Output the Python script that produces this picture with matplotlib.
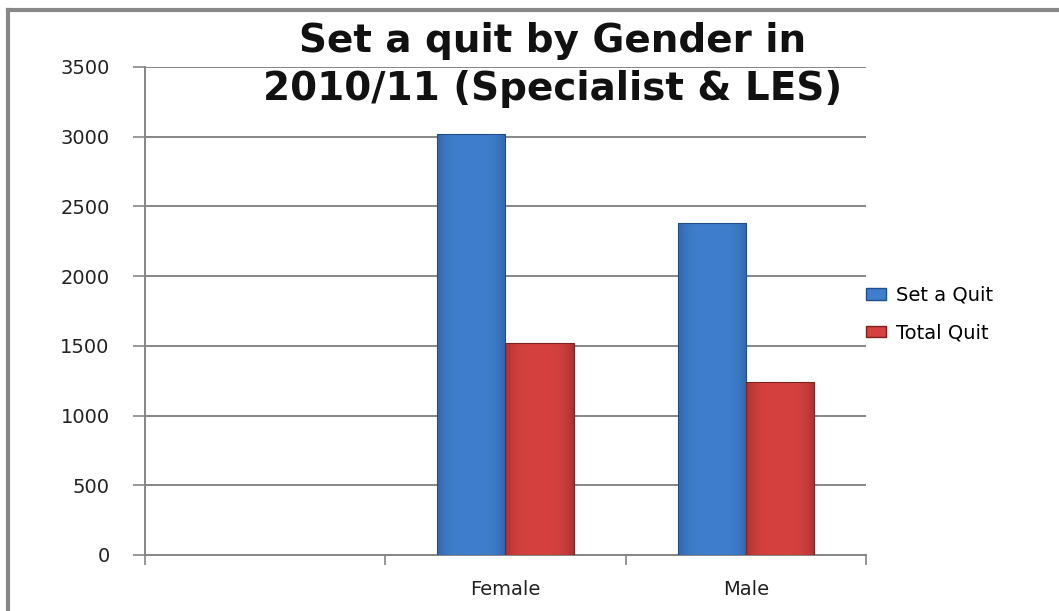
import matplotlib
matplotlib.use("Agg")
import matplotlib.pyplot as plt
import numpy as np
from matplotlib.lines import Line2D
from matplotlib.patches import Patch
from matplotlib.colors import to_rgb

categories = ["", "Female", "Male"]
set_a_quit = [0, 3020, 2383]
total_quit = [0, 1520, 1240]
series_names = ["Set a Quit", "Total Quit"]
y_ticks = [0, 500, 1000, 1500, 2000, 2500, 3000, 3500]
title_lines = ["Set a quit by Gender in", "2010/11 (Specialist & LES)"]

fig = plt.figure(figsize=(10.59, 6.11), dpi=100)
ax = fig.add_axes([145/1059, 1-555/611, (866-145)/1059, (555-67)/611])

x = np.arange(len(categories))
w = 0.283
colors = ["#3F7ECC", "#D4413F"]
dark = ["#214F8C", "#802222"]

def gradient_bars(bars, base, edge):
    for b in bars:
        if b.get_height() <= 0:
            b.set_visible(False)
            continue
        x0, y0 = b.get_x(), b.get_y()
        bw, bh = b.get_width(), b.get_height()
        t = np.linspace(0, 1, 64)
        prof = 1 - 0.5 * np.abs(2 * t - 1) ** 4
        c_base = np.array(to_rgb(base)); c_edge = np.array(to_rgb(edge))
        img = (c_edge[None, :] * (1 - prof[:, None]) + c_base[None, :] * prof[:, None])
        img = img[None, :, :]
        im = ax.imshow(img, extent=(x0, x0 + bw, y0, y0 + bh), aspect="auto",
                       zorder=b.get_zorder(), interpolation="bilinear")
        im.set_clip_path(b)
        b.set_facecolor("none")
        b.set_edgecolor(edge)
        b.set_linewidth(0.8)
        b.set_zorder(b.get_zorder() + 0.1)

b1 = ax.bar(x - w/2, set_a_quit, width=w, color=colors[0], zorder=3)
b2 = ax.bar(x + w/2, total_quit, width=w, color=colors[1], zorder=3)
gradient_bars(b1, colors[0], dark[0])
gradient_bars(b2, colors[1], dark[1])

tick_font = dict(family="DejaVu Sans", size=14)
ax.set_xlim(-0.5, len(categories) - 0.5)
ax.set_ylim(0, 3500)
ax.set_yticks(y_ticks)
ax.set_yticklabels([str(v) for v in y_ticks], color="#222222", **tick_font)
ax.yaxis.grid(True, color="#868686", linewidth=1.4, zorder=0)
ax.set_axisbelow(True)
ax.tick_params(axis="y", length=8.5, width=1.2, color="#868686", pad=17)

ax.set_xticks(x)
ax.set_xticklabels(categories, color="#222222", **tick_font)
ax.tick_params(axis="x", length=0, pad=18)
ax.set_xticks(np.arange(len(categories) + 1) - 0.5, minor=True)
ax.tick_params(axis="x", which="minor", length=7.5, width=1.2, color="#868686")

for s in ["top", "right"]:
    ax.spines[s].set_visible(False)
for s in ["left", "bottom"]:
    ax.spines[s].set_color("#868686")
    ax.spines[s].set_linewidth(1.4)

handles = [Patch(facecolor=colors[0], edgecolor=dark[0]),
           Patch(facecolor=colors[1], edgecolor=dark[1])]
fig.legend(handles, series_names, loc="center left",
           bbox_to_anchor=(848/1059, 1-314/611), frameon=False,
           handlelength=1.05, handleheight=0.55,
           handletextpad=0.5, labelspacing=0.95,
           prop={"family": "DejaVu Sans", "size": 14})

for line, base_y in zip(title_lines, [52, 100]):
    fig.text(553/1059, 1-base_y/611, line, ha="center", va="baseline",
             fontsize=28, fontweight="bold", family="DejaVu Sans", color="#111111")

fig.add_artist(Line2D([8/1059, 8/1059], [0, 1-10/611], transform=fig.transFigure,
                      color="#888888", linewidth=3))
fig.add_artist(Line2D([8/1059, 1], [1-10/611, 1-10/611], transform=fig.transFigure,
                      color="#888888", linewidth=3))

fig.savefig("out.png", dpi=100)
